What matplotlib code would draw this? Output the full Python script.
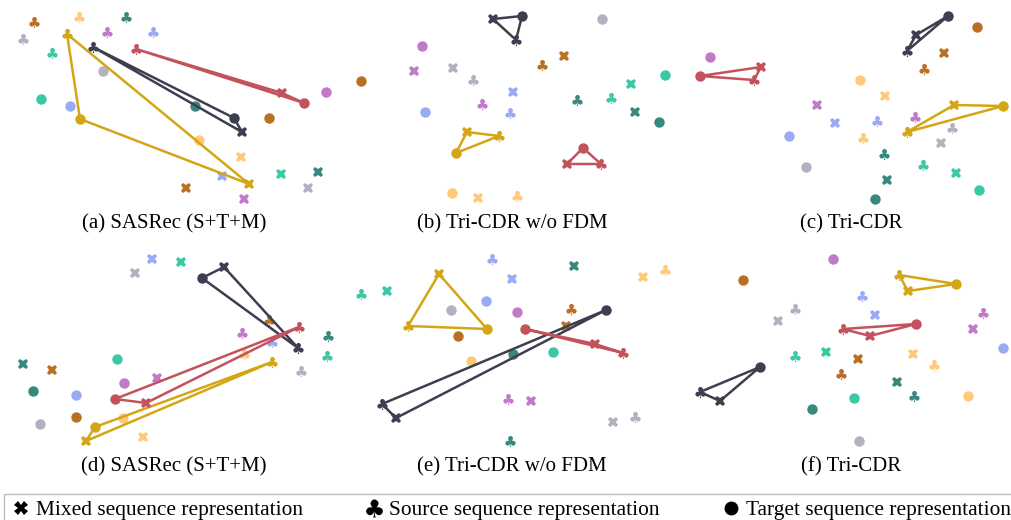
"""
t-SNE style comparison of sequence representations (6 panels).
Coordinates are read off the reference figure in pixel units.
"""

import matplotlib
matplotlib.use('Agg')
import matplotlib.pyplot as plt
from matplotlib.lines import Line2D

# Users (one colour each); the first three are highlighted with triangles
USER_COLORS = ['#3d3f50', '#c4525c', '#d4a515', '#b3600b', '#ffc46b',
               '#237b70', '#bb6ac4', '#8fa1f7', '#a9a9ba', '#26c49b']
HIGHLIGHT = 3

CAPTIONS = ['(a) SASRec (S+T+M)', '(b) Tri-CDR w/o FDM', '(c) Tri-CDR',
            '(d) SASRec (S+T+M)', '(e) Tri-CDR w/o FDM', '(f) Tri-CDR']
CAPTION_X = [174, 512, 851, 174, 512, 851]
CAPTION_Y = [224, 224, 224, 467, 467, 467]

LEGEND_LABELS = ['Mixed sequence representation',
                 'Source sequence representation',
                 'Target sequence representation']

# panel (a)
a_mixed = [(242, 132), (282, 93), (249, 184), (186, 188), (241, 157),
           (318, 172), (244, 199), (222, 176), (308, 188), (281, 174)]
a_source = [(93, 47), (136, 49), (67, 34), (34, 22), (79, 17),
            (126, 17), (107, 32), (153, 32), (23, 39), (52, 53)]
a_target = [(234, 118), (304, 103), (80, 119), (269, 118), (199, 140),
            (195, 106), (326, 92), (70, 106), (103, 71), (41, 99)]

# panel (b)
b_mixed = [(493, 19), (567, 164), (467, 132), (564, 56), (478, 198),
           (635, 112), (414, 71), (513, 92), (453, 68), (631, 84)]
b_source = [(516, 40), (601, 164), (499, 136), (542, 65), (517, 196),
            (577, 100), (482, 104), (510, 113), (473, 80), (611, 98)]
b_target = [(522, 16), (583, 148), (456, 153), (361, 81), (452, 193),
            (659, 122), (422, 46), (425, 112), (602, 19), (665, 75)]

# panel (c)
c_mixed = [(916, 35), (761, 67), (954, 105), (944, 53), (885, 96),
           (887, 180), (817, 105), (835, 123), (941, 143), (956, 173)]
c_source = [(907, 51), (754, 80), (907, 132), (924, 69), (863, 138),
            (884, 154), (915, 117), (877, 121), (952, 128), (923, 165)]
c_target = [(948, 16), (700, 76), (1003, 106), (977, 27), (860, 80),
            (875, 199), (710, 57), (789, 136), (806, 167), (979, 190)]

# panel (d)
d_mixed = [(224, 267), (146, 403), (86, 441), (52, 370), (143, 437),
           (23, 364), (157, 378), (152, 259), (135, 273), (181, 262)]
d_source = [(298, 348), (299, 327), (272, 362), (269, 320), (244, 354),
            (328, 336), (242, 333), (272, 342), (301, 371), (327, 356)]
d_target = [(202, 278), (115, 399), (95, 427), (76, 417), (123, 418),
            (33, 391), (124, 383), (76, 395), (40, 424), (117, 359)]

# panel (e)
e_mixed = [(396, 418), (595, 344), (439, 274), (566, 326), (643, 277),
           (574, 266), (531, 401), (512, 279), (613, 422), (387, 291)]
e_source = [(382, 404), (623, 353), (408, 326), (571, 309), (665, 270),
            (510, 441), (508, 399), (492, 259), (635, 417), (361, 294)]
e_target = [(606, 310), (525, 329), (487, 329), (458, 336), (471, 361),
            (513, 354), (517, 312), (486, 301), (451, 310), (553, 352)]

# panel (f)
f_mixed = [(720, 401), (870, 336), (908, 291), (858, 359), (913, 354),
           (897, 382), (973, 329), (875, 315), (778, 321), (826, 352)]
f_source = [(700, 392), (843, 329), (899, 275), (841, 374), (934, 365),
            (914, 396), (983, 313), (862, 296), (795, 309), (795, 356)]
f_target = [(760, 367), (916, 324), (956, 284), (743, 280), (968, 396),
            (812, 409), (833, 259), (1003, 348), (859, 441), (854, 398)]

PANELS = [(a_mixed, a_source, a_target), (b_mixed, b_source, b_target),
          (c_mixed, c_source, c_target), (d_mixed, d_source, d_target),
          (e_mixed, e_source, e_target), (f_mixed, f_source, f_target)]

CLUB = r'$\clubsuit$'

plt.rcParams['font.family'] = ['Liberation Serif', 'DejaVu Serif']
plt.rcParams['mathtext.fontset'] = 'dejavusans'

fig = plt.figure(figsize=(10.12, 5.2), dpi=100)
ax = fig.add_axes([0, 0, 1, 1])
ax.set_xlim(0, 1012)
ax.set_ylim(520, 0)
ax.axis('off')

for mixed, source, target in PANELS:
    for i, color in enumerate(USER_COLORS):
        hl = i < HIGHLIGHT
        alpha = 1.0 if hl else 0.9
        z = 4 if hl else 2
        if hl:
            xs = [mixed[i][0], source[i][0], target[i][0], mixed[i][0]]
            ys = [mixed[i][1], source[i][1], target[i][1], mixed[i][1]]
            ax.plot(xs, ys, color=color, linewidth=1.8, zorder=3,
                    solid_joinstyle='round')
        ax.plot(*mixed[i], marker='X', markersize=7.5, color=color,
                markeredgewidth=0, alpha=alpha, zorder=z)
        ax.plot(*source[i], marker=CLUB, markersize=8, color=color,
                markeredgewidth=0, alpha=alpha, zorder=z)
        ax.plot(*target[i], marker='o', markersize=7.5, color=color,
                markeredgewidth=0, alpha=alpha, zorder=z)

for cap, cx, cy in zip(CAPTIONS, CAPTION_X, CAPTION_Y):
    ax.text(cx, cy, cap, ha='center', va='center', fontsize=15)

handles = [
    Line2D([], [], linestyle='none', marker='X', markersize=10,
           color='black', markeredgewidth=0),
    Line2D([], [], linestyle='none', marker=CLUB, markersize=13,
           color='black', markeredgewidth=0),
    Line2D([], [], linestyle='none', marker='o', markersize=10,
           color='black', markeredgewidth=0),
]
leg = fig.legend(handles, LEGEND_LABELS, loc='upper left', ncol=3,
                 bbox_to_anchor=(4 / 1012, 1 - 494 / 520),
                 fontsize=15.4, frameon=True, fancybox=False,
                 edgecolor='#aaaaaa', handlelength=1.0, handletextpad=0.18,
                 columnspacing=2.85, borderaxespad=0, borderpad=0.3)
leg.get_frame().set_linewidth(1.0)

fig.savefig('out.png', dpi=100, facecolor='white')
